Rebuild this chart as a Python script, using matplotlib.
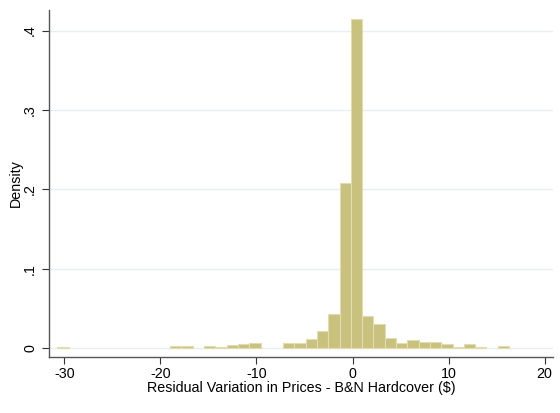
import numpy as np
import matplotlib.pyplot as plt

plt.rcParams['font.family'] = ['Liberation Sans', 'DejaVu Sans']

# histogram: 40 bins of equal width
bin_start = -30.74
bin_width = 1.1757
densities = [0.0015, 0, 0, 0, 0, 0, 0, 0, 0, 0,
             0.003, 0.002, 0, 0.0025, 0.001, 0.0035, 0.0045, 0.006, 0, 0,
             0.0063, 0.0063, 0.011, 0.0213, 0.0422, 0.2085, 0.4145, 0.040, 0.0305, 0.0125,
             0.0062, 0.0097, 0.0072, 0.0072, 0.005, 0.001, 0.005, 0.0013, 0, 0.0025]
x_ticks = [-30, -20, -10, 0, 10, 20]
y_ticks = [0, 0.1, 0.2, 0.3, 0.4]
y_labels = ['0', '.1', '.2', '.3', '.4']

edges = bin_start + bin_width * np.arange(len(densities) + 1)
dens = np.array(densities)
keep = dens > 0  # empty bins draw nothing

fig = plt.figure(figsize=(5.6, 4.13), dpi=100)
ax = fig.add_axes([0.0875, 0.135, 0.9005, 0.841])

for y in y_ticks:
    ax.axhline(y, color='#e6eff2', lw=1.0, zorder=0)

ax.bar(edges[:-1][keep], dens[keep], width=bin_width, align='edge',
       color='#c9c17e', edgecolor='#e2ddb0', linewidth=0.8, zorder=2)

ax.set_xlim(-31.6, 20.9)
ax.set_ylim(-0.0117, 0.426)
ax.set_xticks(x_ticks)
ax.set_xticklabels([str(t) for t in x_ticks])
ax.set_yticks(y_ticks)
ax.set_yticklabels(y_labels, rotation=90, va='center')
ax.tick_params(axis='both', labelsize=10.3, color='#333333', length=5, width=0.8)
ax.tick_params(axis='x', pad=2)

for side in ['top', 'right']:
    ax.spines[side].set_visible(False)
for side in ['left', 'bottom']:
    ax.spines[side].set_color('#555555')
    ax.spines[side].set_linewidth(1.0)

ax.set_xlabel('Residual Variation in Prices - B&N Hardcover ($)', fontsize=10.3, labelpad=0)
ax.set_ylabel('Density', fontsize=10.3, labelpad=0)

fig.savefig('out.png', dpi=100)
